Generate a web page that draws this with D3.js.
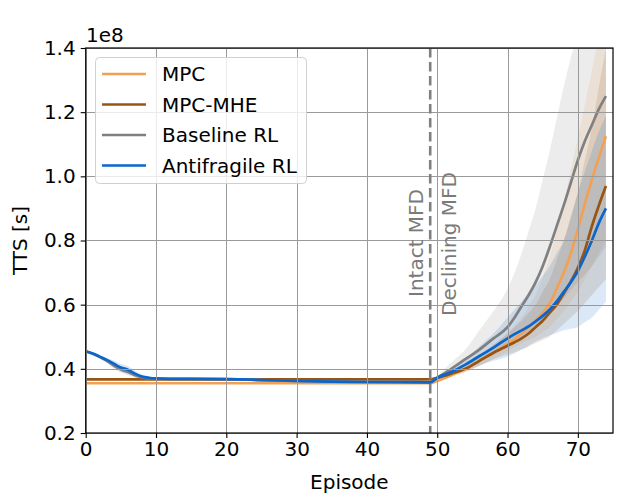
<!DOCTYPE html>
<html>
<head>
<meta charset="utf-8">
<script src="https://cdn.jsdelivr.net/npm/d3@7"></script>
<style>
  html, body { margin: 0; padding: 0; background: #fff; }
  svg { display: block; font-family: "DejaVu Sans", sans-serif; }
</style>
</head>
<body>
<svg id="chart" width="617" height="497"></svg>
<script>
// ---------------- data ----------------
const episodes = [0,1,2,3,4,5,6,7,8,9,10,12,15,20,25,30,35,40,45,49,
                  50,52,54,56,58,60,61,62,63,64,65,66,67,68,69,70,71,72,73,74];

const mpc   = [0.355,0.355,0.355,0.355,0.355,0.355,0.355,0.355,0.355,0.355,0.355,0.355,0.355,0.355,0.355,0.355,0.355,0.355,0.355,0.355,
               0.362,0.38,0.40,0.425,0.45,0.478,0.493,0.51,0.53,0.55,0.575,0.605,0.65,0.70,0.76,0.835,0.915,0.99,1.06,1.125];
const mpcLo = [0.355,0.355,0.355,0.355,0.355,0.355,0.355,0.355,0.355,0.355,0.355,0.355,0.355,0.355,0.355,0.355,0.355,0.355,0.355,0.355,
               0.359,0.375,0.39,0.41,0.43,0.455,0.467,0.48,0.49,0.50,0.515,0.53,0.555,0.58,0.61,0.64,0.68,0.72,0.76,0.80];
const mpcHi = [0.355,0.355,0.355,0.355,0.355,0.355,0.355,0.355,0.355,0.355,0.355,0.355,0.355,0.355,0.355,0.355,0.355,0.355,0.355,0.355,
               0.365,0.387,0.41,0.445,0.475,0.51,0.535,0.56,0.595,0.63,0.685,0.75,0.83,0.92,1.02,1.12,1.225,1.33,1.44,1.55];

const mhe   = [0.367,0.367,0.367,0.367,0.367,0.367,0.367,0.367,0.367,0.367,0.367,0.367,0.367,0.367,0.367,0.367,0.367,0.367,0.367,0.367,
               0.372,0.385,0.40,0.425,0.45,0.472,0.483,0.495,0.51,0.53,0.55,0.575,0.60,0.635,0.672,0.715,0.77,0.845,0.91,0.97];
const mheLo = [0.367,0.367,0.367,0.367,0.367,0.367,0.367,0.367,0.367,0.367,0.367,0.367,0.367,0.367,0.367,0.367,0.367,0.367,0.367,0.367,
               0.369,0.378,0.39,0.41,0.43,0.445,0.452,0.46,0.47,0.48,0.49,0.50,0.52,0.54,0.56,0.58,0.605,0.63,0.655,0.68];
const mheHi = [0.367,0.367,0.367,0.367,0.367,0.367,0.367,0.367,0.367,0.367,0.367,0.367,0.367,0.367,0.367,0.367,0.367,0.367,0.367,0.367,
               0.375,0.392,0.41,0.44,0.475,0.51,0.53,0.55,0.575,0.60,0.64,0.68,0.74,0.80,0.875,0.95,1.05,1.15,1.28,1.40];

const baseRL = [0.455,0.447,0.437,0.425,0.41,0.398,0.39,0.38,0.373,0.37,0.369,0.369,0.369,0.368,0.365,0.362,0.36,0.359,0.358,0.358,
                0.372,0.40,0.43,0.46,0.495,0.53,0.56,0.595,0.63,0.67,0.72,0.78,0.845,0.91,0.98,1.05,1.11,1.16,1.21,1.25];
const baseLo = [0.452,0.444,0.434,0.42,0.40,0.388,0.38,0.372,0.368,0.368,0.367,0.367,0.367,0.366,0.363,0.36,0.358,0.357,0.356,0.356,
                0.368,0.39,0.41,0.43,0.45,0.47,0.485,0.50,0.515,0.53,0.55,0.57,0.595,0.62,0.645,0.67,0.695,0.72,0.75,0.78];
const baseHi = [0.458,0.45,0.44,0.43,0.42,0.408,0.40,0.388,0.378,0.372,0.371,0.371,0.371,0.37,0.367,0.364,0.362,0.361,0.36,0.36,
                0.378,0.42,0.46,0.52,0.58,0.65,0.70,0.76,0.83,0.90,0.99,1.08,1.18,1.28,1.37,1.45,1.55,1.65,1.75,1.85];

const antiRL = [0.455,0.448,0.438,0.428,0.416,0.404,0.397,0.385,0.376,0.372,0.37,0.369,0.369,0.368,0.365,0.362,0.36,0.359,0.359,0.358,
                0.372,0.39,0.413,0.44,0.466,0.495,0.508,0.52,0.532,0.548,0.565,0.585,0.61,0.64,0.67,0.705,0.75,0.80,0.855,0.90];
const antiLo = [0.452,0.445,0.434,0.422,0.406,0.392,0.385,0.376,0.37,0.369,0.368,0.367,0.367,0.366,0.363,0.36,0.358,0.357,0.357,0.356,
                0.366,0.38,0.395,0.41,0.425,0.438,0.448,0.46,0.472,0.485,0.495,0.505,0.512,0.52,0.525,0.53,0.545,0.56,0.585,0.61];
const antiHi = [0.458,0.451,0.442,0.434,0.426,0.416,0.409,0.394,0.382,0.375,0.372,0.371,0.371,0.37,0.367,0.364,0.362,0.361,0.361,0.36,
                0.378,0.40,0.43,0.47,0.51,0.56,0.585,0.61,0.635,0.66,0.69,0.72,0.76,0.80,0.87,0.95,1.015,1.08,1.14,1.19];

const seriesNames  = ["MPC", "MPC-MHE", "Baseline RL", "Antifragile RL"];
const seriesColors = ["#f2a154", "#985412", "#808080", "#0a66cc"];
const xTicks = [0,10,20,30,40,50,60,70];
const yTicks = [0.2,0.4,0.6,0.8,1.0,1.2,1.4];
const changeEpisode = 49;

// ---------------- layout ----------------
const svg = d3.select("#chart");
const M = {left: 85.7, top: 48, right: 613, bottom: 433};
const x = d3.scaleLinear().domain([0, 75]).range([M.left, M.right]);
const y = d3.scaleLinear().domain([0.2, 1.4]).range([M.bottom, M.top]);

svg.append("defs").append("clipPath").attr("id", "clip")
  .append("rect").attr("x", M.left).attr("y", M.top)
  .attr("width", M.right - M.left).attr("height", M.bottom - M.top);

const plot = svg.append("g").attr("clip-path", "url(#clip)");

const series = [
  {mid: mpc, lo: mpcLo, hi: mpcHi},
  {mid: mhe, lo: mheLo, hi: mheHi},
  {mid: baseRL, lo: baseLo, hi: baseHi},
  {mid: antiRL, lo: antiLo, hi: antiHi}
];

// bands
series.forEach((s, k) => {
  const area = d3.area()
    .x((d, i) => x(episodes[i]))
    .y0((d, i) => y(s.lo[i]))
    .y1((d, i) => y(s.hi[i]))
    .curve(d3.curveMonotoneX);
  plot.append("path").datum(s.mid)
    .attr("d", area)
    .attr("fill", seriesColors[k])
    .attr("fill-opacity", 0.15)
    .attr("stroke", "none");
});

// grid
const grid = svg.append("g");
xTicks.forEach(t => {
  grid.append("line")
    .attr("x1", Math.round(x(t)) + 0.5).attr("x2", Math.round(x(t)) + 0.5)
    .attr("y1", M.top).attr("y2", M.bottom)
    .attr("stroke", "#9a9a9a").attr("stroke-width", 1);
});
yTicks.forEach(t => {
  grid.append("line")
    .attr("y1", Math.round(y(t)) + 0.5).attr("y2", Math.round(y(t)) + 0.5)
    .attr("x1", M.left).attr("x2", M.right)
    .attr("stroke", "#9a9a9a").attr("stroke-width", 1);
});

// lines
series.forEach((s, k) => {
  const line = d3.line()
    .x((d, i) => x(episodes[i]))
    .y(d => y(d))
    .curve(d3.curveMonotoneX);
  plot.append("path").datum(s.mid)
    .attr("d", line)
    .attr("fill", "none")
    .attr("stroke", seriesColors[k])
    .attr("stroke-width", 2.7)
    .attr("stroke-linejoin", "round")
    .attr("stroke-linecap", "butt");
});

// vertical dashed line
svg.append("line")
  .attr("x1", x(changeEpisode)).attr("x2", x(changeEpisode))
  .attr("y1", M.top).attr("y2", M.bottom)
  .attr("stroke", "#808080").attr("stroke-width", 2.6)
  .attr("stroke-dasharray", "9.5,4.5");

svg.append("text")
  .attr("transform", `translate(${x(changeEpisode) - 7.5},243) rotate(-90)`)
  .attr("text-anchor", "middle")
  .attr("font-size", 20).attr("fill", "#7a7a7a")
  .text("Intact MFD");
svg.append("text")
  .attr("transform", `translate(${x(changeEpisode) + 25.5},244) rotate(-90)`)
  .attr("text-anchor", "middle")
  .attr("font-size", 20).attr("fill", "#7a7a7a")
  .text("Declining MFD");

// axes
const xAxis = d3.axisBottom(x).tickValues(xTicks).tickSize(5).tickPadding(4).tickFormat(d3.format("d"));
const yAxis = d3.axisLeft(y).tickValues(yTicks).tickSize(5).tickPadding(5).tickFormat(d3.format(".1f"));

const gx = svg.append("g").attr("transform", `translate(0,${M.bottom})`).call(xAxis);
const gy = svg.append("g").attr("transform", `translate(${M.left},0)`).call(yAxis);
[gx, gy].forEach(g => {
  g.select(".domain").remove();
  g.selectAll("line").attr("stroke", "#000").attr("stroke-width", 1.1);
  g.selectAll("text").attr("font-size", 20).attr("fill", "#000")
    .attr("font-family", "DejaVu Sans, sans-serif");
});

// frame
svg.append("rect")
  .attr("x", M.left).attr("y", M.top)
  .attr("width", M.right - M.left).attr("height", M.bottom - M.top)
  .attr("fill", "none").attr("stroke", "#000").attr("stroke-width", 1.2);

// axis labels
svg.append("text").attr("x", (M.left + M.right) / 2).attr("y", 489)
  .attr("text-anchor", "middle").attr("font-size", 20).text("Episode");
svg.append("text")
  .attr("transform", `translate(27,${(M.top + M.bottom) / 2}) rotate(-90)`)
  .attr("text-anchor", "middle").attr("font-size", 20).text("TTS [s]");
svg.append("text").attr("x", 86).attr("y", 42)
  .attr("font-size", 20).text("1e8");

// legend
const lg = svg.append("g");
lg.append("rect").attr("x", 95.5).attr("y", 57.5).attr("width", 211).attr("height", 126)
  .attr("rx", 4).attr("fill", "#fff").attr("fill-opacity", 0.8)
  .attr("stroke", "#d0d0d0").attr("stroke-width", 1);
seriesNames.forEach((name, i) => {
  const cy = 74 + i * 30.5;
  lg.append("line").attr("x1", 102).attr("x2", 146).attr("y1", cy).attr("y2", cy)
    .attr("stroke", seriesColors[i]).attr("stroke-width", 2.7);
  lg.append("text").attr("x", 162).attr("y", cy + 7.3)
    .attr("font-size", 20).text(name);
});
</script>
</body>
</html>
